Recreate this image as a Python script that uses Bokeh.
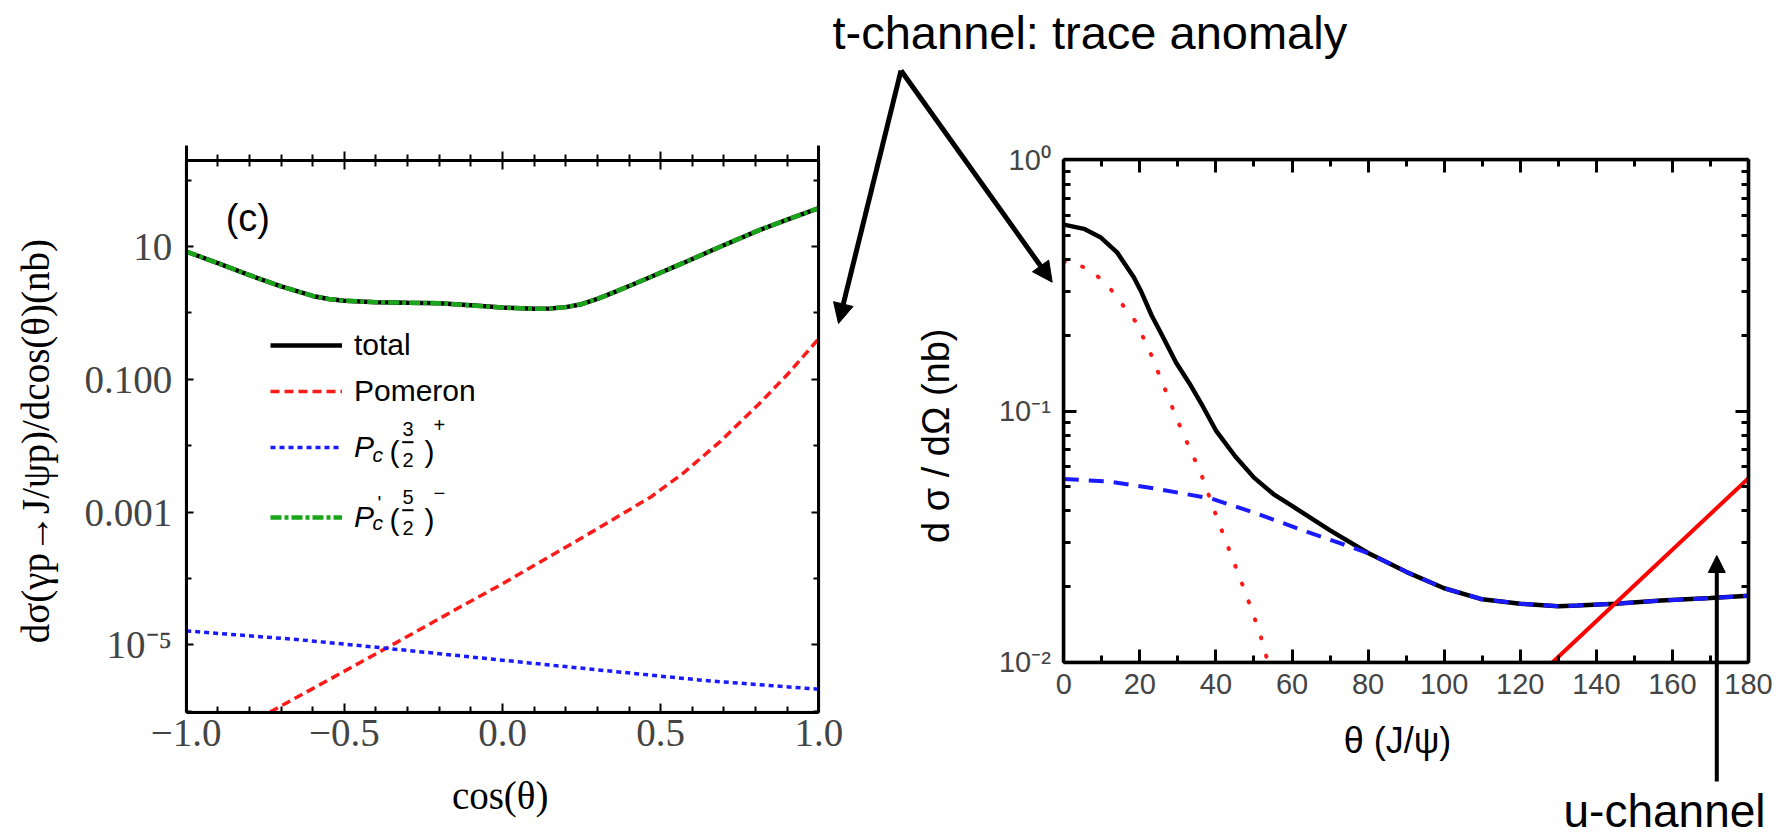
import math
from bokeh.plotting import figure
from bokeh.models import (Range1d, FixedTicker, CustomJSTickFormatter, LinearAxis, LogAxis, LogScale,
                          Legend, LegendItem, Label, Arrow, NormalHead, BoxAnnotation)
from bokeh.embed import file_html
from bokeh.resources import INLINE

# ---------------- Left panel (c): dsigma/dcos(theta) ----------------
cos_total = [-1.00, -0.90, -0.80, -0.70, -0.60, -0.55, -0.50, -0.40, -0.30, -0.20, -0.10,
             0.00, 0.10, 0.15, 0.20, 0.25, 0.30, 0.35, 0.41, 0.47, 0.57, 0.69, 0.81, 0.90, 1.00]
total_c = [8.4, 5.6, 3.7, 2.5, 1.8, 1.62, 1.52, 1.45, 1.42, 1.40, 1.30,
           1.20, 1.15, 1.16, 1.22, 1.35, 1.62, 2.02, 2.65, 3.5, 5.6, 10.0, 17.5, 25.3, 37.8]
pc52_c = [8.4, 5.6, 3.7, 2.5, 1.8, 1.62, 1.52, 1.45, 1.42, 1.40, 1.30,
          1.20, 1.15, 1.16, 1.22, 1.35, 1.62, 2.02, 2.65, 3.5, 5.6, 10.0, 17.5, 25.3, 37.8]
cos_pom = [-0.735, -0.60, -0.47, -0.36, -0.25, -0.13, 0.00, 0.13, 0.30,
           0.47, 0.57, 0.69, 0.81, 0.90, 1.00]
pomeron_c = [9.7e-7, 2.19e-6, 4.8e-6, 9.3e-6, 1.82e-5, 3.8e-5, 8.3e-5, 1.9e-4, 5.6e-4,
             1.7e-3, 3.8e-3, 1.17e-2, 4.2e-2, 0.117, 0.41]
cos_pc32 = [-1.00, -0.65, -0.39, -0.05, 0.30, 0.64, 1.00]
pc32_c = [1.62e-5, 1.2e-5, 9.1e-6, 6.2e-6, 4.2e-6, 2.9e-6, 2.14e-6]

left_xlim = (-1.0, 1.0)
left_ylim = (10 ** -6.015, 10 ** 2.295)
left_xticks = [-1.0, -0.5, 0.0, 0.5, 1.0]
left_xtick_labels = ["\u22121.0", "\u22120.5", "0.0", "0.5", "1.0"]
left_xminor = [-0.9, -0.8, -0.7, -0.6, -0.4, -0.3, -0.2, -0.1, 0.1, 0.2, 0.3, 0.4, 0.6, 0.7, 0.8, 0.9]
left_yticks = [10.0, 0.1, 0.001, 1e-5]
left_ytick_exps = [1, -1, -3, -5]
left_ytick_labels = ["10", "0.100", "0.001", "10\u207b\u2075"]
left_yminor = [100.0, 1.0, 0.01, 1e-4, 1e-6]
legend_labels = ["total", "Pomeron", "P", "P"]

# ---------------- Right panel: dsigma/dOmega vs theta ----------------
theta_total = [0, 5.3, 9.6, 14, 18.4, 20.2, 23.1, 26, 29.5, 33, 36.6, 40, 45.1, 50, 55.1, 60,
               70, 80, 90, 100, 110, 120, 130, 135, 145, 157, 170, 180]
total_r = [0.552, 0.531, 0.492, 0.428, 0.341, 0.302, 0.240, 0.198, 0.156, 0.129, 0.104, 0.0836,
           0.0659, 0.0543, 0.0467, 0.0419, 0.0335, 0.0272, 0.0229, 0.0197, 0.0178, 0.0171,
           0.0167, 0.0168, 0.0171, 0.0176, 0.0180, 0.0184]
theta_tpom = [0, 6.4, 11.4, 15, 19, 23, 27, 31, 36, 40, 44, 48, 51.5, 53.5]
tpom_r = [0.394, 0.370, 0.319, 0.27, 0.226, 0.167, 0.118, 0.0836, 0.0567, 0.0385,
          0.0267, 0.0185, 0.0131, 0.0102]
theta_blue = [0, 12, 24.5, 39, 50, 64, 72, 80, 90, 100, 110, 120, 130, 135, 145, 157, 170, 180]
blue_r = [0.0536, 0.0524, 0.049, 0.0447, 0.0394, 0.033, 0.0300, 0.0272, 0.0229, 0.0197,
          0.0178, 0.0171, 0.0167, 0.0168, 0.0171, 0.0176, 0.0180, 0.0184]
theta_u = [128.5, 180]
u_r = [0.0100, 0.054]

right_xlim = (0.0, 180.0)
right_ylim = (0.01, 1.0)
right_xticks = [0, 20, 40, 60, 80, 100, 120, 140, 160, 180]
right_xminor = [10, 30, 50, 70, 90, 110, 130, 150, 170]
right_yticks = [0.01, 0.1, 1.0]
right_ytick_exps = [-2, -1, 0]
right_ytick_labels = ["10\u207b\u00b2", "10\u207b\u00b9", "10\u2070"]
right_yminor = [0.02, 0.03, 0.04, 0.05, 0.06, 0.07, 0.08, 0.09,
                0.2, 0.3, 0.4, 0.5, 0.6, 0.7, 0.8, 0.9]

# ---------------- page layout (pixels) ----------------
W, H = 1777, 837
LEFT_BOX = (185.7, 818.3, 160.0, 711.7)     # left, right, top, bottom
RIGHT_BOX = (1063.3, 1748.0, 159.3, 661.7)
SERIF = "Liberation Serif"
SANS = "Liberation Sans"
MID = 0.33   # distance (in font sizes) from the text middle down to its baseline


def x_range_for(lim, box):
    l, r = box[0], box[1]
    k = (lim[1] - lim[0]) / (r - l)
    start = lim[0] - l * k
    return Range1d(start, start + W * k)


def logy_range_for(lim, box):
    t, b = box[2], box[3]
    lo, hi = math.log10(lim[0]), math.log10(lim[1])
    k = (hi - lo) / (b - t)
    return Range1d(10 ** (lo - (H - b) * k), 10 ** (hi + t * k))


def exp_formatter(exps, labels):
    return CustomJSTickFormatter(args=dict(exps=exps, labs=labels), code="""
        const e = Math.round(Math.log10(tick));
        const i = exps.indexOf(e);
        return i >= 0 ? labs[i] : "";
    """)


def lin_formatter(ticks, labels):
    return CustomJSTickFormatter(args=dict(tks=ticks, labs=labels), code="""
        for (let i = 0; i < tks.length; i++) {
            if (Math.abs(tks[i] - tick) < 1e-9) return labs[i];
        }
        return "";
    """)


def style_axis(ax, maj_in, maj_out, mi_in, mi_out, w, hide=False, line_w=None):
    ax.major_tick_in = maj_in
    ax.major_tick_out = maj_out
    ax.minor_tick_in = mi_in
    ax.minor_tick_out = mi_out
    ax.major_tick_line_width = w
    ax.minor_tick_line_width = w
    ax.major_tick_line_color = "black"
    ax.minor_tick_line_color = "black"
    if line_w is None:
        ax.axis_line_color = None
    else:
        ax.axis_line_color = "black"
        ax.axis_line_width = line_w
    if hide:
        ax.formatter = CustomJSTickFormatter(code="return '';")
        ax.major_label_text_font_size = "1px"
        ax.major_label_text_color = None
        ax.major_label_standoff = 0


def sx(X):
    return X


def sy(Y):
    return H - Y


p = figure(width=W, height=H, x_range=x_range_for(left_xlim, LEFT_BOX),
           y_range=logy_range_for(left_ylim, LEFT_BOX), y_axis_type="log",
           output_backend="svg", toolbar_location=None, min_border=0)
p.xgrid.visible = False
p.ygrid.visible = False
p.outline_line_color = None
p.background_fill_color = "white"
p.border_fill_color = "white"
p.extra_x_ranges = {"th": x_range_for(right_xlim, RIGHT_BOX)}
p.extra_y_ranges = {"ds": logy_range_for(right_ylim, RIGHT_BOX)}
p.extra_y_scales = {"ds": LogScale()}
R = dict(x_range_name="th", y_range_name="ds")

# ======================= LEFT PANEL =======================
r_tot = p.line(cos_total, total_c, line_color="black", line_width=4.5)
r_pc52 = p.line(cos_total, pc52_c, line_color="#1aa51a", line_width=4.5, line_dash="11 3 4 3")
r_pom = p.line(cos_pom, pomeron_c, line_color="#ff1a1a", line_width=3.5, line_dash="9 5")
r_pc32 = p.line(cos_pc32, pc32_c, line_color="#1a1aff", line_width=3.5, line_dash="5 4")

p.add_layout(BoxAnnotation(left=left_xlim[0], right=left_xlim[1], bottom=left_ylim[0], top=left_ylim[1],
                           fill_alpha=0, line_color="black", line_width=3))
stub_top = 10 ** (math.log10(left_ylim[1]) + 0.226)   # frame sides rise a bit above the top axis

xb = p.below[0]
xb.ticker = FixedTicker(ticks=left_xticks, minor_ticks=left_xminor)
xb.formatter = lin_formatter(left_xticks, left_xtick_labels)
xb.fixed_location = left_ylim[0]
xb.bounds = left_xlim
style_axis(xb, 9, 0, 6, 0, 2, line_w=3)
xb.major_label_text_font = SERIF
xb.major_label_text_font_size = "39px"
xb.major_label_standoff = 8

yl = p.left[0]
yl.ticker = FixedTicker(ticks=left_yticks, minor_ticks=left_yminor)
yl.formatter = exp_formatter(left_ytick_exps, left_ytick_labels)
yl.fixed_location = left_xlim[0]
yl.bounds = (left_ylim[0], stub_top)
style_axis(yl, 7, 0, 5, 0, 2, line_w=3)
yl.major_label_text_font = SERIF
yl.major_label_text_font_size = "39px"
yl.major_label_standoff = 14

xt = LinearAxis(ticker=FixedTicker(ticks=left_xticks, minor_ticks=left_xminor),
                fixed_location=left_ylim[1], bounds=left_xlim)
style_axis(xt, 9, 9, 6, 6, 2, hide=True, line_w=3)
p.add_layout(xt, "above")
yr = LogAxis(ticker=FixedTicker(ticks=left_yticks, minor_ticks=left_yminor),
             fixed_location=left_xlim[1], bounds=(left_ylim[0], stub_top))
style_axis(yr, 7, 0, 5, 0, 2, hide=True, line_w=3)
p.add_layout(yr, "right")


def put(txt, X, Y, size, align="left", style="normal", font=SANS, baseline="alphabetic", angle=0.0):
    """Y is the text baseline for baseline='alphabetic', else the text middle."""
    px = float(size.replace("px", ""))
    if baseline == "alphabetic":
        Y = Y - MID * px
    p.add_layout(Label(x=sx(X), y=sy(Y), x_units="screen", y_units="screen", text=txt,
                       text_font=font, text_font_size=size, text_font_style=style, angle=angle,
                       text_align=align, text_baseline="middle", text_color="black"))


def seg(X0, Y0, X1, Y1, w, head=None):
    p.add_layout(Arrow(x_start=sx(X0), y_start=sy(Y0), x_end=sx(X1), y_end=sy(Y1),
                       start_units="screen", end_units="screen", end=head,
                       line_color="black", line_width=w))


# axis titles and panel tag
put("cos(\u03b8)", 499.7, 794.5, "39px", align="center", font=SERIF, baseline="middle")
put("d\u03c3(\u03b3p\u2192J/\u03c8p)/dcos(\u03b8)(nb)", 35.0, 440.6, "39px", align="center",
    font=SERIF, baseline="middle", angle=math.pi / 2)
put("(c)", 247.3, 217.3, "38px", align="center", baseline="middle")

# legend: one single-entry legend per row
leg_rows = [(r_tot, legend_labels[0], 345.0, "normal"),
            (r_pom, legend_labels[1], 390.7, "normal"),
            (r_pc32, legend_labels[2], 446.7, "italic"),
            (r_pc52, legend_labels[3], 517.0, "italic")]
for rend, lab, yc, style in leg_rows:
    lg = Legend(items=[LegendItem(label=lab, renderers=[rend])], location=(270.0, sy(yc) - 17),
                glyph_width=72, glyph_height=34, label_height=34, label_standoff=12,
                padding=0, margin=0, spacing=0, border_line_alpha=0, background_fill_alpha=0,
                label_text_font=SANS, label_text_font_size="30px",
                label_text_font_style=style, label_text_color="black")
    p.add_layout(lg)

# math parts of the two P_c entries (baselines)
for dy, num, sign, prime in [(0, "3", "+", False), (68, "5", "\u2212", True)]:
    put("c", 372.0, 461.0 + dy, "21px", style="italic")
    if prime:
        put("'", 377.0, 441.0 + dy, "20px")
    put("(", 389.0, 461.0 + dy, "30px")
    put(num, 407.5, 435.0 + dy, "20px", align="center")
    seg(401.7, 441.7 + dy, 413.0, 441.7 + dy, 2)
    put("2", 407.5, 466.0 + dy, "20px", align="center")
    put(")", 424.0, 461.0 + dy, "30px")
    put(sign, 433.0, 431.0 + dy, "20px")

# ======================= RIGHT PANEL =======================
p.line(theta_total, total_r, line_color="black", line_width=4.5, **R)
p.line(theta_tpom, tpom_r, line_color="#ff1a1a", line_width=4, line_dash="1 18", line_cap="round", **R)
p.line(theta_blue, blue_r, line_color="#1a1aff", line_width=4, line_dash="15 10", **R)
p.line(theta_u, u_r, line_color="#ff0000", line_width=4, **R)

p.add_layout(BoxAnnotation(left=right_xlim[0], right=right_xlim[1], bottom=right_ylim[0], top=right_ylim[1],
                           fill_alpha=0, line_color="black", line_width=3.5, **R))

xbR = LinearAxis(ticker=FixedTicker(ticks=right_xticks, minor_ticks=right_xminor),
                 fixed_location=right_ylim[0], bounds=right_xlim, **R)
style_axis(xbR, 13, 0, 7, 0, 3, line_w=3.5)
xbR.major_label_text_font = SANS
xbR.major_label_text_font_size = "29px"
xbR.major_label_standoff = 12
p.add_layout(xbR, "below")

ylR = LogAxis(ticker=FixedTicker(ticks=right_yticks, minor_ticks=right_yminor),
              fixed_location=right_xlim[0], bounds=right_ylim, **R)
ylR.formatter = exp_formatter(right_ytick_exps, right_ytick_labels)
style_axis(ylR, 13, 0, 7, 0, 3, line_w=3.5)
ylR.major_label_text_font = SANS
ylR.major_label_text_font_size = "29px"
ylR.major_label_standoff = 13
p.add_layout(ylR, "left")

xtR = LinearAxis(ticker=FixedTicker(ticks=right_xticks, minor_ticks=right_xminor),
                 fixed_location=right_ylim[1], bounds=right_xlim, **R)
style_axis(xtR, 13, 0, 7, 0, 3, hide=True, line_w=3.5)
p.add_layout(xtR, "above")
yrR = LogAxis(ticker=FixedTicker(ticks=right_yticks, minor_ticks=right_yminor),
              fixed_location=right_xlim[1], bounds=right_ylim, **R)
style_axis(yrR, 13, 0, 7, 0, 3, hide=True, line_w=3.5)
p.add_layout(yrR, "right")

put("\u03b8 (J/\u03c8)", 1397.0, 740.0, "36px", align="center", baseline="middle")
put("d \u03c3 / d\u03a9  (nb)", 935.0, 430.0, "38px", align="center", baseline="middle",
    angle=math.pi / 2)

# annotations: t-channel arrows into both panels, u-channel arrow
HEAD = dict(fill_color="black", line_color="black", line_width=1)
put("t-channel: trace anomaly", 832.0, 48.0, "47px")
seg(900.5, 70.0, 838.0, 323.0, 5, NormalHead(size=20, **HEAD))
seg(900.5, 70.0, 1051.7, 281.7, 5, NormalHead(size=20, **HEAD))
seg(1716.3, 781.0, 1716.3, 555.0, 4, NormalHead(size=17, **HEAD))
put("u-channel", 1563.0, 826.0, "46px")

open("out.html", "w").write(file_html(p, INLINE))
